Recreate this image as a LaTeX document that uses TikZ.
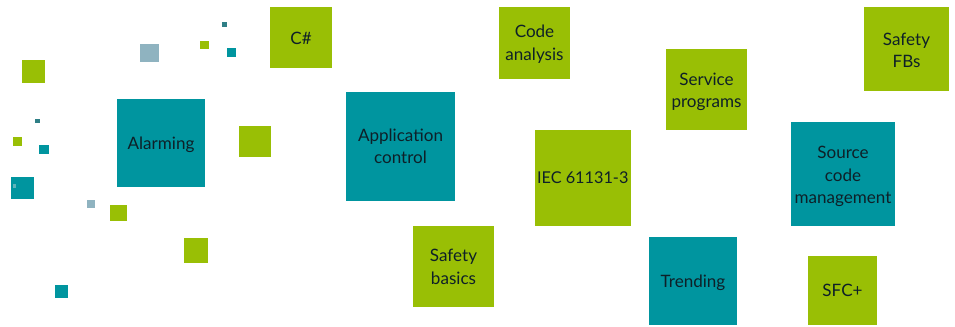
\documentclass[tikz,border=0pt]{standalone}
\usepackage{fontspec}
\setmainfont{Lato}
\definecolor{leaf}{HTML}{99BF05}
\definecolor{sea}{HTML}{00959F}
\definecolor{deep}{HTML}{2F7F86}
\definecolor{mist}{HTML}{8FB3C0}
\definecolor{ink}{HTML}{0E2028}
\definecolor{spot}{HTML}{5FB4BA}
\tikzset{
  x=0.75pt,y=-0.75pt,
  tile/.style={draw=none,inner sep=0pt,outer sep=0pt},
  tiletext/.style={inner sep=0pt,outer sep=0pt,align=center,text=ink,
    font=\fontsize{12.8}{16.9}\selectfont},
  leaftile/.style={tile,fill=leaf},
  seatile/.style={tile,fill=sea},
  deeptile/.style={tile,fill=deep},
  misttile/.style={tile,fill=mist},
  spottile/.style={tile,fill=spot}
}
% name, style, x0, y0, x1, y1, text, downward text shift in px
\newcommand{\tilebox}[8]{%
  \pgfmathsetmacro{\tw}{(#5-#3)*0.75}%
  \pgfmathsetmacro{\th}{(#6-#4)*0.75}%
  \pgfmathsetmacro{\ts}{-(#8)*0.75}%
  \node[#2,minimum width=\tw pt,minimum height=\th pt,
    label={[tiletext,yshift=\ts pt]center:{#7}}] (#1) at ({(#3+#5)/2},{(#4+#6)/2}) {};%
}
\begin{document}
\begin{tikzpicture}
\useasboundingbox (0,0) rectangle (955,327);
\tilebox{csharp}{leaftile}{270}{7}{332}{68}{C\#}{1}
\tilebox{alarming}{seatile}{117}{99}{205}{187}{Alarming}{1.5}
\tilebox{appctl}{seatile}{346}{92}{455}{201}{Application\\control}{0}
\tilebox{codean}{leaftile}{499}{7}{570}{79}{Code\\analysis}{1}
\tilebox{iec}{leaftile}{534.5}{130}{631}{226}{{\fontsize{12.2}{16.9}\selectfont IEC 61131-3}}{0}
\tilebox{safebas}{leaftile}{413}{226}{494}{306.5}{Safety\\basics}{0.7}
\tilebox{service}{leaftile}{666}{49.5}{747}{130}{Service\\programs}{2}
\tilebox{safefb}{leaftile}{864}{7}{949}{91.5}{Safety\\FBs}{1}
\tilebox{source}{seatile}{791}{122}{895}{226}{Source\\code\\management}{2.5}
\tilebox{trending}{seatile}{649}{237.5}{737}{325}{Trending}{2}
\tilebox{sfc}{leaftile}{808}{256}{877}{324.5}{SFC+}{0}
% scattered small squares
\tilebox{d1}{misttile}{140.3}{44}{158.7}{62}{}{0}
\tilebox{d2}{leaftile}{200}{40.7}{209.3}{49.3}{}{0}
\tilebox{d3}{deeptile}{222.3}{22}{226.7}{26.7}{}{0}
\tilebox{d4}{seatile}{226.7}{48.3}{236}{57.3}{}{0}
\tilebox{d5}{leaftile}{22}{60.3}{44.7}{83.3}{}{0}
\tilebox{d6}{deeptile}{35}{118.7}{39.7}{123.3}{}{0}
\tilebox{d7}{leaftile}{13.3}{136.7}{22.3}{145.7}{}{0}
\tilebox{d8}{seatile}{39.3}{145.3}{48.7}{154.3}{}{0}
\tilebox{d9}{seatile}{11}{176.7}{34.3}{199.3}{}{0}
\tilebox{d9b}{spottile}{13}{184}{16}{188}{}{0}
\tilebox{d10}{misttile}{87.3}{200}{95.3}{208}{}{0}
\tilebox{d11}{leaftile}{110}{205}{127}{221.3}{}{0}
\tilebox{d12}{leaftile}{184}{238.3}{208}{262.7}{}{0}
\tilebox{d13}{seatile}{55}{285.3}{67.7}{297.7}{}{0}
\tilebox{d14}{leaftile}{239.3}{125.7}{270.7}{156.7}{}{0}
\end{tikzpicture}
\end{document}
